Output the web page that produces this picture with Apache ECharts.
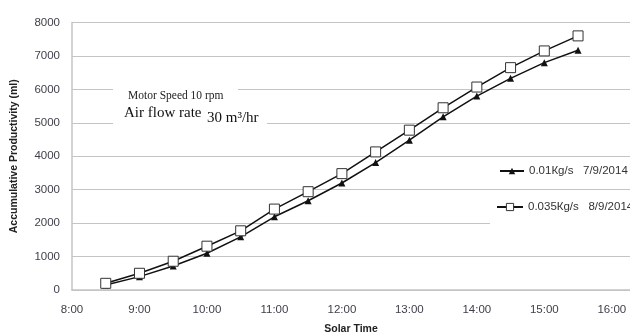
<!DOCTYPE html>
<html>
<head>
<meta charset="utf-8">
<script src="https://cdn.jsdelivr.net/npm/echarts@6/dist/echarts.min.js"></script>
<style>
  html, body { margin: 0; padding: 0; background: #fff; }
  #chart { width: 630px; height: 333px; }
</style>
</head>
<body>
<div id="chart"></div>
<script>
// solar time in hours (8.5 = 8:30)
var hours = [8.5, 9, 9.5, 10, 10.5, 11, 11.5, 12, 12.5, 13, 13.5, 14, 14.5, 15, 15.5];
var flowLow = [150, 400, 720, 1100, 1590, 2190, 2670, 3200, 3810, 4480, 5180, 5800, 6330, 6800, 7170];
var flowHigh = [200, 500, 860, 1310, 1770, 2420, 2940, 3480, 4130, 4780, 5450, 6070, 6650, 7150, 7600];
var seriesNames = ['0.01\u041ag/s   7/9/2014', '0.035\u041ag/s   8/9/2014'];

function pairs(ys) {
  return hours.map(function(h, i) { return [h, ys[i]]; });
}

var grey = '#c4c4c4';
var labelColor = '#3f3f4a';

var chart = echarts.init(document.getElementById('chart'));
chart.setOption({
  animation: false,
  grid: { left: 72, right: 0, top: 22.5, bottom: 43, outerBoundsMode: 'none' },
  xAxis: {
    type: 'value',
    min: 8, max: 16.27, interval: 1,
    name: 'Solar Time',
    nameLocation: 'middle',
    nameGap: 34,
    nameTextStyle: { color: '#222', fontSize: 10.5, fontWeight: 'bold', fontFamily: 'Liberation Sans' },
    axisLine: { lineStyle: { color: grey, width: 1.5 } },
    axisTick: { show: false },
    splitLine: { show: false },
    axisLabel: {
      color: labelColor, fontSize: 11.5, fontFamily: 'Liberation Sans', margin: 14,
      formatter: function(v) { return v % 1 === 0 ? v + ':00' : ''; }
    }
  },
  yAxis: {
    type: 'value',
    min: 0, max: 8000, interval: 1000,
    name: 'Accumulative Productivity (ml)',
    nameLocation: 'middle',
    nameGap: 52,
    nameTextStyle: { color: '#222', fontSize: 10.5, fontWeight: 'bold', fontFamily: 'Liberation Sans' },
    axisLine: { show: true, lineStyle: { color: grey, width: 1.5 } },
    axisTick: { show: false },
    splitLine: { lineStyle: { color: grey, width: 1.2 } },
    axisLabel: {
      color: labelColor, fontSize: 11.5, fontFamily: 'Liberation Sans', margin: 12,
      formatter: function(v) { return String(v); }
    }
  },
  legend: [
    {
      data: [{ name: seriesNames[0], itemStyle: { color: '#111' } }],
      left: 499, top: 165, padding: 0,
      itemWidth: 24, itemHeight: 8,
      textStyle: { color: '#333', fontSize: 11.5, fontFamily: 'Liberation Sans' }
    },
    {
      data: [{ name: seriesNames[1], itemStyle: { color: '#fff', borderColor: '#333', borderWidth: 1 } }],
      left: 496, top: 201, padding: 0,
      itemWidth: 26, itemHeight: 9,
      textStyle: { color: '#333', fontSize: 11.5, fontFamily: 'Liberation Sans' }
    }
  ],
  series: [
    {
      name: seriesNames[0], type: 'line', data: pairs(flowLow),
      symbol: 'triangle', symbolSize: 7,
      lineStyle: { color: '#111', width: 1.5 },
      itemStyle: { color: '#111' }
    },
    {
      name: seriesNames[1], type: 'line', data: pairs(flowHigh),
      symbol: 'rect', symbolSize: 10,
      lineStyle: { color: '#111', width: 1.5 },
      itemStyle: { color: '#fff', borderColor: '#333', borderWidth: 1 }
    }
  ],
  graphic: [
    { type: 'rect', shape: { x: 113, y: 84, width: 125, height: 10 }, style: { fill: '#fff' }, z: 10 },
    { type: 'rect', shape: { x: 113, y: 118, width: 154, height: 10 }, style: { fill: '#fff' }, z: 10 },
    { type: 'rect', shape: { x: 490, y: 218, width: 140, height: 8 }, style: { fill: '#fff' }, z: 10 },
    {
      type: 'text', x: 128, y: 96, z: 11,
      style: { text: 'Motor Speed 10 rpm', fill: '#222', font: '11.5px "Liberation Serif"', verticalAlign: 'middle' }
    },
    {
      type: 'text', x: 124, y: 113, z: 11,
      style: { text: 'Air flow rate', fill: '#111', font: '15px "Liberation Serif"', verticalAlign: 'middle' }
    },
    {
      type: 'text', x: 207, y: 118, z: 11,
      style: { text: '30 m\u00b3/hr', fill: '#111', font: '15px "Liberation Serif"', verticalAlign: 'middle' }
    }
  ]
});
</script>
</body>
</html>
